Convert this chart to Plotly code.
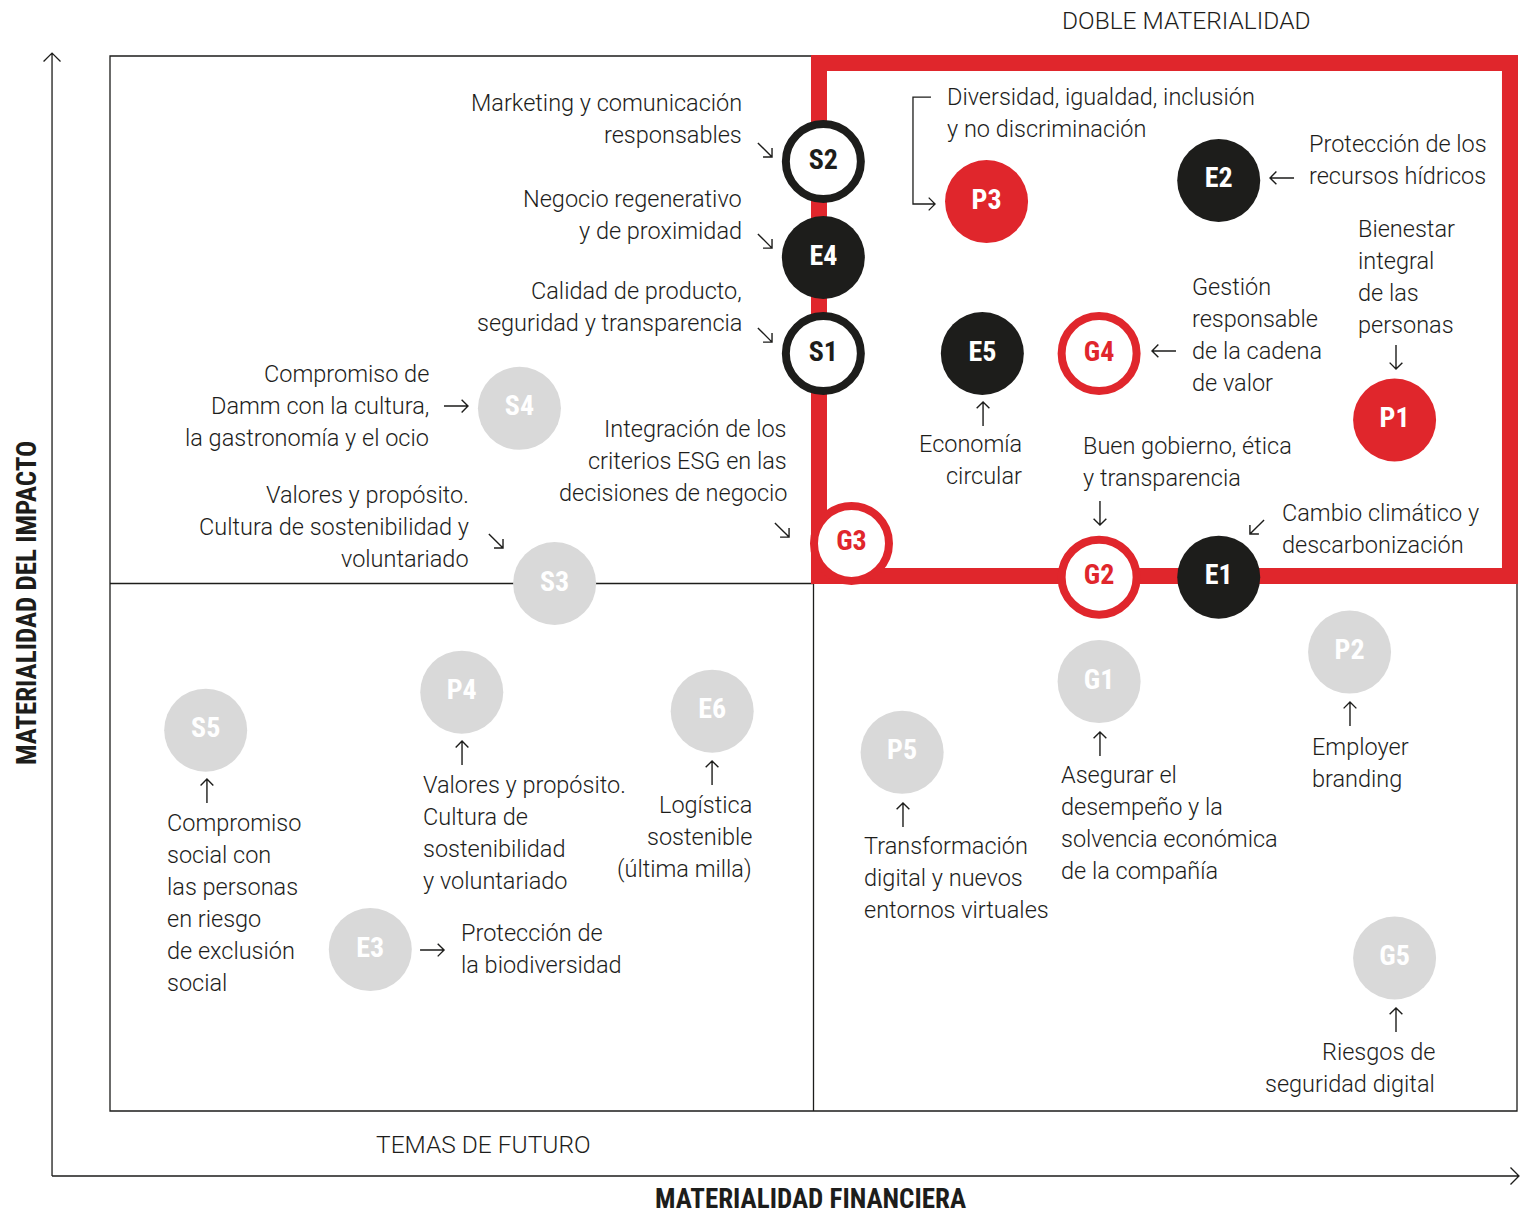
import math
import plotly.graph_objects as go

# ---------------- data ----------------
codes = ["S2", "E4", "S1", "P3", "E2", "E5", "G4", "P1", "G3", "G2", "E1",
         "S4", "S3", "S5", "P4", "E6", "P5", "G1", "P2", "E3", "G5"]
financial = [5.07, 5.07, 5.07, 6.23, 7.88, 6.20, 7.03, 9.13, 5.27, 7.03, 7.88,
             2.91, 3.16, 0.68, 2.50, 4.28, 5.63, 7.03, 8.81, 1.85, 9.13]
impact = [9.00, 8.09, 7.18, 8.62, 8.82, 7.18, 7.18, 6.55, 5.38, 5.06, 5.06,
          6.66, 5.00, 3.61, 3.97, 3.79, 3.40, 4.07, 4.35, 1.53, 1.45]
group = ["ring_black", "solid_black", "ring_black", "solid_red", "solid_black",
         "solid_black", "ring_red", "solid_red", "ring_red", "ring_red", "solid_black",
         "grey", "grey", "grey", "grey", "grey", "grey", "grey", "grey", "grey", "grey"]

topic_lines = [
    ["Marketing y comunicación", "responsables"],
    ["Negocio regenerativo", "y de proximidad"],
    ["Calidad de producto,", "seguridad y transparencia"],
    ["Compromiso de", "Damm con la cultura,", "la gastronomía y el ocio"],
    ["Integración de los", "criterios ESG en las", "decisiones de negocio"],
    ["Valores y propósito.", "Cultura de sostenibilidad y", "voluntariado"],
    ["Diversidad, igualdad, inclusión", "y no discriminación"],
    ["Protección de los", "recursos hídricos"],
    ["Bienestar", "integral", "de las", "personas"],
    ["Gestión", "responsable", "de la cadena", "de valor"],
    ["Economía", "circular"],
    ["Buen gobierno, ética", "y transparencia"],
    ["Cambio climático y", "descarbonización"],
    ["Compromiso", "social con", "las personas", "en riesgo", "de exclusión", "social"],
    ["Valores y propósito.", "Cultura de", "sostenibilidad", "y voluntariado"],
    ["Logística", "sostenible", "(última milla)"],
    ["Protección de", "la biodiversidad"],
    ["Transformación", "digital y nuevos", "entornos virtuales"],
    ["Asegurar el", "desempeño y la", "solvencia económica", "de la compañía"],
    ["Employer", "branding"],
    ["Riesgos de", "seguridad digital"],
]

quadrant_titles = ["DOBLE MATERIALIDAD", "TEMAS DE FUTURO"]
axis_titles = ["MATERIALIDAD FINANCIERA", "MATERIALIDAD DEL IMPACTO"]

# ---------------- layout (positions / styles) ----------------
label_pos = [  # x, y of first line, anchor
    (4.506, 9.555, "right"), (4.506, 8.645, "right"), (4.506, 7.773, "right"),
    (2.281, 6.986, "right"), (4.826, 6.464, "right"), (2.566, 5.839, "right"),
    (5.935, 9.611, "left"), (8.507, 9.166, "left"), (8.856, 8.360, "left"),
    (7.676, 7.810, "left"), (6.496, 6.322, "right"), (6.901, 6.303, "left"),
    (8.316, 5.668, "left"), (0.391, 2.730, "left"), (2.210, 3.090, "left"),
    (4.577, 2.900, "right"), (2.480, 1.687, "left"), (5.345, 2.512, "left"),
    (6.745, 3.185, "left"), (8.529, 3.450, "left"), (9.431, 0.559, "right"),
]
pointer_arrows = [  # direction, centre x, centre y
    ("se", 4.655, 9.109), ("se", 4.655, 8.246), ("se", 4.655, 7.355),
    ("e", 2.459, 6.682), ("se", 4.776, 5.507), ("se", 2.743, 5.403),
    ("w", 8.330, 8.844), ("s", 9.140, 7.147), ("w", 7.491, 7.204),
    ("n", 6.205, 6.607), ("s", 7.036, 5.668), ("sw", 8.152, 5.536),
    ("n", 0.689, 3.033), ("n", 2.502, 3.393), ("n", 4.279, 3.204),
    ("e", 2.289, 1.526), ("n", 5.636, 2.806), ("n", 7.036, 3.479),
    ("n", 8.813, 3.763), ("n", 9.140, 0.863),
]

W, H = 1534, 1218
XR = [-0.7818, 10.1208]
YR = [-1.0142, 10.5308]
PX_X = W / (XR[1] - XR[0])   # pixels per x unit
PX_Y = H / (YR[1] - YR[0])   # pixels per y unit

RED = "#e0262c"
GREY = "#d9d9d9"
INK = "#1d1d1b"
TXT_FONT = "Roboto, 'Liberation Sans', Arial, sans-serif"
BOLD_FONT = "'Roboto Condensed', Roboto, sans-serif"
TXT_SIZE = 23.5

styles = {
    "ring_black": dict(fill="white", line=INK, lw=8, size=75, txt=INK),
    "solid_black": dict(fill=INK, line=INK, lw=0, size=83, txt="white"),
    "solid_red": dict(fill=RED, line=RED, lw=0, size=83, txt="white"),
    "ring_red": dict(fill="white", line=RED, lw=8, size=75, txt=RED),
    "grey": dict(fill=GREY, line=GREY, lw=0, size=83, txt="white"),
}

fig = go.Figure()

for g, st in styles.items():
    idx = [i for i, gg in enumerate(group) if gg == g]
    fig.add_trace(go.Scatter(
        x=[financial[i] for i in idx], y=[impact[i] for i in idx],
        text=[codes[i] for i in idx], mode="markers+text",
        textposition="middle center",
        textfont=dict(family=BOLD_FONT, size=28, color=st["txt"], weight="bold"),
        marker=dict(size=st["size"], color=st["fill"],
                    line=dict(color=st["line"], width=st["lw"]), opacity=1),
        hoverinfo="text", showlegend=False, cliponaxis=False,
    ))

LW = 1.3
shapes = []
# outer box and quadrant lines
shapes.append(dict(type="rect", x0=0, x1=10, y0=0, y1=10,
                   line=dict(color=INK, width=LW), layer="below"))
shapes.append(dict(type="line", x0=0, x1=5, y0=5, y1=5,
                   line=dict(color=INK, width=LW), layer="below"))
shapes.append(dict(type="line", x0=5, x1=5, y0=0, y1=5,
                   line=dict(color=INK, width=LW), layer="below"))
# double materiality frame
shapes.append(dict(type="rect", x0=5.039, x1=9.950, y0=5.071, y1=9.934,
                   line=dict(color=RED, width=16), layer="below"))


def chevron(tx, ty, ux, uy, wing=8.0):
    """Open arrowhead path at tip (tx, ty) data; (ux, uy) unit direction in px space (y down)."""
    pts = []
    for s in (1, -1):
        a = math.radians(135 * s)
        vx = ux * math.cos(a) - uy * math.sin(a)
        vy = ux * math.sin(a) + uy * math.cos(a)
        pts.append((tx + vx * wing / PX_X, ty - vy * wing / PX_Y))
    return f"M {pts[0][0]} {pts[0][1]} L {tx} {ty} L {pts[1][0]} {pts[1][1]}"


DIRS = {"e": (1, 0), "w": (-1, 0), "n": (0, -1), "s": (0, 1),
        "se": (1 / math.sqrt(2), 1 / math.sqrt(2)),
        "sw": (-1 / math.sqrt(2), 1 / math.sqrt(2))}


def arrow_path(cx, cy, d, length):
    ux, uy = DIRS[d]
    hx, hy = ux * length / 2 / PX_X, -uy * length / 2 / PX_Y
    sx, sy, ex, ey = cx - hx, cy - hy, cx + hx, cy + hy
    return f"M {sx} {sy} L {ex} {ey} " + chevron(ex, ey, ux, uy, wing=9)


for d, ax, ay in pointer_arrows:
    length = 20 if d in ("se", "sw") else 24
    shapes.append(dict(type="path", path=arrow_path(ax, ay, d, length),
                       line=dict(color=INK, width=1.4)))

# bracket arrow for P3 label
shapes.append(dict(type="path",
                   path="M 5.835 9.611 L 5.707 9.611 L 5.707 8.597 L 5.864 8.597 "
                        + chevron(5.864, 8.597, 1, 0, wing=9),
                   line=dict(color=INK, width=LW)))
# axes arrows
ax_x0, ax_y0 = -0.412, -0.616
shapes.append(dict(type="path",
                   path=f"M {ax_x0} {ax_y0} L {ax_x0} 10.028 " + chevron(ax_x0, 10.028, 0, -1, wing=12),
                   line=dict(color=INK, width=LW)))
shapes.append(dict(type="path",
                   path=f"M {ax_x0} {ax_y0} L 10.014 {ax_y0} " + chevron(10.014, ax_y0, 1, 0, wing=12),
                   line=dict(color=INK, width=LW)))

annotations = []
LINE_PX = 32
for lines, (lx, ly, anc) in zip(topic_lines, label_pos):
    for k, t in enumerate(lines):
        annotations.append(dict(
            x=lx, y=ly, text=t, showarrow=False, xanchor=anc, yanchor="middle",
            yshift=-LINE_PX * k,
            font=dict(family=TXT_FONT, size=TXT_SIZE, color=INK, weight=300)))

annotations.append(dict(x=7.648, y=10.341, text=quadrant_titles[0], showarrow=False,
                        font=dict(family=TXT_FONT, size=24.5, color=INK, weight=300)))
annotations.append(dict(x=2.658, y=-0.322, text=quadrant_titles[1], showarrow=False,
                        font=dict(family=TXT_FONT, size=24.5, color=INK, weight=300)))
annotations.append(dict(x=4.982, y=-0.834, text=axis_titles[0], showarrow=False,
                        font=dict(family=BOLD_FONT, size=27, color=INK, weight="bold")))
annotations.append(dict(x=-0.590, y=4.815, text=axis_titles[1], showarrow=False,
                        textangle=-90,
                        font=dict(family=BOLD_FONT, size=27, color=INK, weight="bold")))

fig.update_layout(
    width=W, height=H, autosize=False,
    margin=dict(l=0, r=0, t=0, b=0, pad=0),
    paper_bgcolor="white", plot_bgcolor="white",
    xaxis=dict(range=XR, visible=False, fixedrange=True),
    yaxis=dict(range=YR, visible=False, fixedrange=True),
    shapes=shapes, annotations=annotations,
)

fig.write_html("out.html", config={"displayModeBar": False},
               post_script="document.body.style.margin='0';")
